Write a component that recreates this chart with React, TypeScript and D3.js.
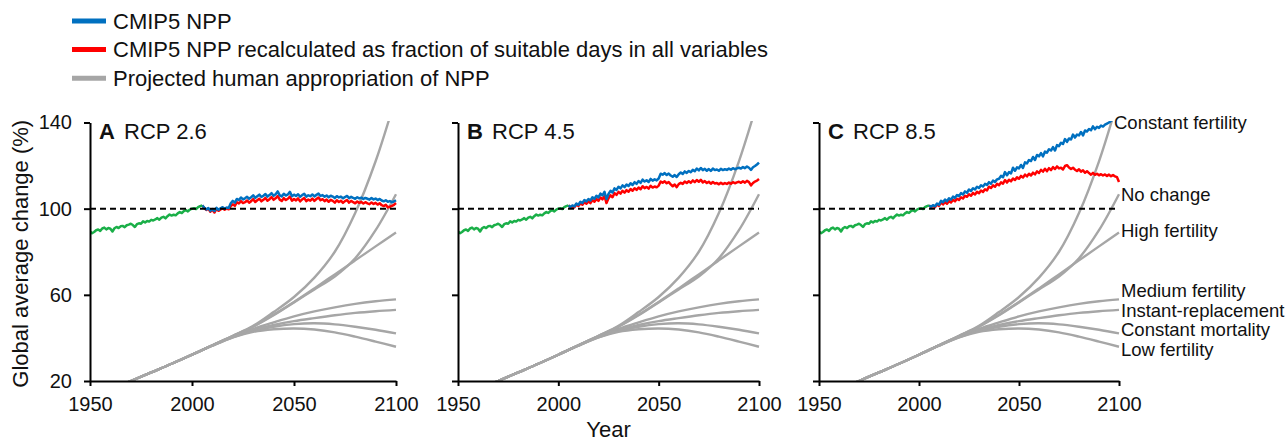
import React, { useEffect, useRef } from 'react';
import * as d3 from 'd3';

const W = 1288;
const H = 441;

// observed NPP (green), annual from 1950
const obsStart = 1950;
const observed = [
  89.5, 88.6, 89.2, 90.0, 90.3, 89.7, 90.8, 91.2, 90.4, 91.0,
  90.7, 89.4, 90.9, 91.5, 91.0, 91.8, 92.0, 91.4, 92.3, 92.6,
  93.0, 92.4, 91.5, 92.8, 93.2, 93.0, 94.1, 93.6, 94.3, 94.0,
  94.8, 94.5, 95.0, 95.6, 94.9, 95.8, 96.2, 95.5, 96.5, 97.3,
  96.8, 97.2, 96.9, 97.8, 98.4, 98.0, 98.9, 99.3, 98.7, 99.6,
  100.0, 100.2, 99.8, 100.7, 101.2, 101.5,
];

// CMIP5 projections, annual from 2006
const projStart = 2006;
const blueA = [
  100.5, 99.6, 100.3, 99.0, 99.8, 98.9, 100.4, 99.5, 100.2, 100.7,
  100.0, 100.5, 100.3, 102.5, 103.6, 102.8, 104.5, 104.0, 105.2, 104.3,
  104.8, 105.5, 104.6, 105.3, 106.2, 105.0, 105.8, 106.5, 105.4, 106.0,
  106.8, 105.6, 106.3, 107.2, 106.0, 106.7, 108.0, 106.2, 105.7, 106.9,
  106.1, 106.6, 107.8, 105.8, 106.5, 105.9, 106.7, 105.5, 106.3, 106.9,
  105.6, 106.2, 105.8, 106.6, 105.7, 106.4, 107.0, 105.9, 106.3, 105.5,
  106.1, 105.3, 106.0, 105.6, 104.9, 105.8, 105.2, 105.6, 104.8, 105.4,
  105.9, 104.9, 105.5, 105.0, 104.6, 105.3, 104.8, 105.1, 104.5, 105.0,
  104.6, 104.2, 104.9, 104.3, 104.7, 104.0, 104.5, 103.8, 103.4, 103.9,
  103.2, 103.5, 103.0, 103.3, 103.9,
];
const redA = [
  100.3, 99.4, 100.0, 98.6, 99.5, 98.2, 99.9, 99.0, 99.6, 100.2,
  99.5, 100.0, 99.7, 101.2, 102.0, 101.3, 103.0, 102.4, 103.5, 102.6,
  103.0, 103.8, 102.8, 103.5, 104.4, 103.1, 103.9, 104.6, 103.4, 104.1,
  105.0, 103.7, 104.4, 105.4, 104.1, 104.8, 105.9, 104.2, 103.6, 104.9,
  104.0, 104.6, 105.6, 103.7, 104.5, 103.8, 104.8, 103.4, 104.3, 105.0,
  103.5, 104.2, 103.7, 104.7, 103.6, 104.5, 105.2, 103.9, 104.4, 103.5,
  104.2, 103.2, 104.1, 103.6, 102.8, 103.9, 103.1, 103.7, 102.7, 103.5,
  104.0, 102.8, 103.6, 103.0, 102.5, 103.3, 102.7, 103.1, 102.4, 103.0,
  102.5, 102.1, 102.9, 102.2, 102.7, 101.9, 102.5, 101.6, 101.2, 101.8,
  100.6, 100.9, 101.3, 101.8, 102.6,
];
const blueB = [
  100.8, 101.5, 101.0, 102.4, 101.8, 103.2, 102.6, 104.0, 103.4, 104.5,
  103.8, 105.3, 104.6, 106.0, 105.2, 107.0, 106.2, 107.8, 104.5, 106.8,
  108.3, 107.5, 109.4, 108.7, 110.2, 109.4, 110.8, 110.0, 111.2, 110.5,
  111.8, 111.0, 112.3, 111.5, 112.8, 112.0, 113.5, 112.6, 113.2, 112.4,
  113.8, 113.0, 113.6, 113.1, 114.0, 116.2, 115.8, 116.5, 115.6, 116.3,
  115.4, 114.8, 115.6, 114.7, 116.0, 116.8, 116.1, 117.3, 116.6, 117.5,
  116.9, 118.0, 117.4, 118.6, 117.8, 118.9, 117.9, 118.5, 117.6, 118.4,
  117.5, 118.6, 117.9, 118.2, 117.6, 118.5, 117.9, 118.3, 118.0, 118.6,
  118.1, 118.8, 118.3, 118.7, 119.0, 118.6, 119.3, 118.8, 119.6, 119.0,
  118.0, 119.2, 119.8, 120.5, 121.4,
];
const redB = [
  100.6, 101.2, 100.6, 101.9, 101.2, 102.5, 101.8, 103.0, 102.3, 103.4,
  102.6, 104.0, 103.2, 104.5, 103.6, 105.2, 104.3, 105.8, 102.6, 104.8,
  106.2, 105.3, 107.2, 106.4, 107.8, 107.0, 108.3, 107.4, 108.6, 107.9,
  109.1, 108.3, 109.5, 108.7, 109.8, 109.0, 110.4, 109.5, 110.1, 109.3,
  110.6, 109.8, 110.3, 109.9, 110.7, 112.6, 112.0, 112.7, 111.8, 112.4,
  111.3, 110.4, 111.2, 110.0, 111.4, 112.0, 111.5, 112.6, 111.9, 112.7,
  112.0, 113.1, 112.3, 113.3, 112.5, 113.4, 112.2, 112.8, 111.9, 112.5,
  111.6, 112.4, 111.7, 111.9, 111.3, 112.0, 111.4, 111.9, 111.5, 112.1,
  111.6, 112.3, 111.8, 112.2, 112.5, 112.0, 112.7, 112.1, 112.9, 112.3,
  110.8, 111.9, 112.6, 113.0, 113.8,
];
const blueC = [
  100.9, 101.6, 101.1, 102.4, 101.9, 103.6, 103.0, 104.2, 103.5, 104.8,
  104.2, 105.6, 105.0, 106.3, 105.8, 107.2, 106.6, 108.0, 107.4, 108.9,
  108.2, 109.5, 108.9, 110.2, 109.6, 110.9, 110.3, 111.5, 111.0, 112.3,
  111.6, 113.0, 112.4, 113.6, 113.9, 115.2, 114.6, 117.0, 115.5, 117.0,
  116.4, 119.0, 117.6, 119.2, 118.7, 120.3, 118.9, 121.5, 121.0, 122.6,
  122.1, 124.0, 122.6, 124.9, 124.3, 125.8, 124.3, 126.5, 126.0, 127.6,
  127.0, 128.6, 127.0, 129.5, 129.0, 130.6, 130.0, 132.3, 131.0, 132.6,
  132.1, 134.4, 133.0, 134.4, 134.0, 135.6, 134.0, 136.3, 135.8, 137.0,
  136.4, 138.2, 136.9, 138.0, 137.5, 138.6, 138.1, 139.0, 139.5, 140.0,
  140.8, 141.5, 142.0, 142.6, 143.2,
];
const redC = [
  100.7, 101.3, 100.7, 101.9, 101.3, 102.8, 102.0, 103.1, 102.3, 103.6,
  102.9, 104.1, 103.4, 104.6, 104.0, 105.3, 104.7, 106.0, 105.5, 106.7,
  106.0, 107.3, 106.6, 107.8, 107.2, 108.4, 107.8, 109.0, 108.5, 110.2,
  109.6, 110.8, 110.2, 111.5, 110.9, 112.2, 111.6, 113.3, 112.1, 113.4,
  112.7, 114.0, 113.3, 114.6, 113.9, 115.2, 114.5, 115.8, 115.0, 116.2,
  115.4, 116.7, 115.9, 117.3, 116.6, 118.0, 117.2, 118.5, 117.4, 118.8,
  117.9, 119.3, 118.4, 119.6, 118.7, 119.0, 118.2, 119.8, 120.2, 119.1,
  118.4, 119.0, 118.1, 117.5, 118.3, 117.2, 117.8, 116.7, 117.4, 116.5,
  115.8, 116.6, 115.7, 116.2, 115.5, 116.0, 115.4, 115.9, 115.2, 115.8,
  115.1, 115.6, 115.0, 114.6, 112.4,
];

const panelLetters = ['A', 'B', 'C'];
const panelTitles = ['RCP 2.6', 'RCP 4.5', 'RCP 8.5'];
const panelBlue = [blueA, blueB, blueC];
const panelRed = [redA, redB, redC];

// human appropriation of NPP, per decade
const hanppYears = [1960, 1970, 1980, 1990, 2000, 2010, 2020, 2030, 2040, 2050, 2060, 2070, 2080, 2090, 2100];
const hanppNames = [
  'Constant fertility', 'No change', 'High fertility', 'Medium fertility',
  'Instant-replacement', 'Constant mortality', 'Low fertility',
];
const hanppValues = [
  [16, 20, 24, 28, 32.2, 36.6, 41.0, 45.6, 52, 59, 68, 80, 98, 122, 152],
  [16, 20, 24, 28, 32.2, 36.6, 40.9, 45.2, 50.5, 56.5, 62.5, 68.5, 77, 90, 106.7],
  [16, 20, 24, 28, 32.2, 36.6, 40.9, 45.3, 50.8, 56.7, 63, 69.5, 76, 82.5, 88.9],
  [16, 20, 24, 28, 32.2, 36.5, 40.6, 44.2, 47.2, 50.0, 52.3, 54.2, 55.8, 57, 57.9],
  [16, 20, 24, 28, 32.2, 36.5, 40.5, 43.8, 46.0, 47.8, 49.2, 50.5, 51.6, 52.4, 53],
  [16, 20, 24, 28, 32.2, 36.4, 40.3, 43.3, 45.2, 46.4, 46.8, 46.3, 45.2, 43.8, 42.1],
  [16, 20, 24, 28, 32.2, 36.4, 40.2, 42.8, 44.0, 44.4, 43.9, 42.6, 40.6, 38.3, 35.9],
];
const labelYears = [2096.5, 2100, 2100, 2100, 2100, 2100, 2100];
const labelValues = [140.2, 106.6, 89.9, 61.8, 52.8, 43.7, 34.8];

const legendNames = [
  'CMIP5 NPP',
  'CMIP5 NPP recalculated as fraction of suitable days in all variables',
  'Projected human appropriation of NPP',
];

const yTicks = [20, 60, 100, 140];
const xTicks = [1950, 2000, 2050, 2100];

const BLUE = '#0070c0';
const RED = '#ff0000';
const GREEN = '#1aaf48';
const GREY = '#a6a6a6';
const legendColors = [BLUE, RED, GREY];

const App: React.FC = () => {
  const svgRef = useRef<SVGSVGElement>(null);

  useEffect(() => {
    const svg = d3.select(svgRef.current);
    svg.selectAll('*').remove();

    const font = "'Liberation Sans', Arial, Helvetica, sans-serif";
    const lefts = [90, 458, 819];
    const rights = [396, 759, 1119];
    const top = 122.5;
    const bottom = 381;

    const y = d3.scaleLinear().domain([20, 140]).range([bottom, top]);

    // legend
    legendNames.forEach((name, i) => {
      const ly = 21 + i * 28.6;
      svg.append('line')
        .attr('x1', 72).attr('x2', 106)
        .attr('y1', ly).attr('y2', ly)
        .attr('stroke', legendColors[i])
        .attr('stroke-width', 5);
      svg.append('text')
        .attr('x', 113)
        .attr('y', ly + 7.8)
        .attr('font-family', font)
        .attr('font-size', 22)
        .attr('fill', '#111')
        .text(name);
    });

    const defs = svg.append('defs');

    panelLetters.forEach((letter, i) => {
      const x = d3.scaleLinear().domain([1950, 2100]).range([lefts[i], rights[i]]);
      const clipId = `plot-clip-${i}`;
      defs.append('clipPath').attr('id', clipId)
        .append('rect')
        .attr('x', lefts[i])
        .attr('y', top - 1.5)
        .attr('width', rights[i] - lefts[i] + 4)
        .attr('height', bottom - top + 1.5);

      const g = svg.append('g');
      const plot = g.append('g').attr('clip-path', `url(#${clipId})`);

      // grey human appropriation curves
      const gLine = d3.line<number>()
        .x((_, j) => x(hanppYears[j]))
        .y(d => y(d))
        .curve(d3.curveCatmullRom.alpha(0.5));
      hanppValues.forEach(vals => {
        plot.append('path')
          .attr('d', gLine(vals)!)
          .attr('fill', 'none')
          .attr('stroke', GREY)
          .attr('stroke-width', 2.4);
      });

      // 100% reference
      g.append('line')
        .attr('x1', x(1950)).attr('x2', x(2100))
        .attr('y1', y(100)).attr('y2', y(100))
        .attr('stroke', '#000')
        .attr('stroke-width', 2)
        .attr('stroke-dasharray', '6,4');

      type Pt = { yr: number; v: number };
      const line = d3.line<Pt>().x(d => x(d.yr)).y(d => y(d.v));
      const last: Pt = { yr: obsStart + observed.length - 1, v: observed[observed.length - 1] };
      const toPts = (arr: number[]) => [last, ...arr.map((v, j) => ({ yr: projStart + j, v }))];

      plot.append('path')
        .attr('d', line(toPts(panelRed[i]))!)
        .attr('fill', 'none').attr('stroke', RED).attr('stroke-width', 2.5)
        .attr('stroke-linejoin', 'round');
      plot.append('path')
        .attr('d', line(toPts(panelBlue[i]))!)
        .attr('fill', 'none').attr('stroke', BLUE).attr('stroke-width', 2.5)
        .attr('stroke-linejoin', 'round');
      plot.append('path')
        .attr('d', line(observed.map((v, j) => ({ yr: obsStart + j, v })))!)
        .attr('fill', 'none').attr('stroke', GREEN).attr('stroke-width', 2.5)
        .attr('stroke-linejoin', 'round');

      // axes
      const yAxis = d3.axisLeft(y)
        .tickValues(yTicks)
        .tickSize(6)
        .tickSizeOuter(0)
        .tickPadding(12)
        .tickFormat(d => (i === 0 ? String(d) : ''));
      const ya = g.append('g')
        .attr('transform', `translate(${lefts[i]},0)`)
        .call(yAxis);

      const xAxis = d3.axisBottom(x)
        .tickValues(xTicks)
        .tickSize(5)
        .tickSizeOuter(0)
        .tickPadding(11)
        .tickFormat(d => String(d));
      const xa = g.append('g')
        .attr('transform', `translate(0,${bottom})`)
        .call(xAxis);

      [ya, xa].forEach(a => {
        a.attr('font-family', font).attr('font-size', 20);
        a.select('.domain').attr('stroke', '#000').attr('stroke-width', 2);
        a.selectAll('.tick line').attr('stroke', '#000').attr('stroke-width', 2);
        a.selectAll('.tick text').attr('fill', '#111');
      });

      // panel title
      const t = g.append('text')
        .attr('x', lefts[i] + 9)
        .attr('y', 139)
        .attr('font-family', font)
        .attr('font-size', 22)
        .attr('fill', '#111');
      t.append('tspan').attr('font-weight', 'bold').text(letter);
      t.append('tspan').attr('dx', 3).text(' ' + panelTitles[i]);

      // scenario labels on last panel
      if (i === 2) {
        hanppNames.forEach((name, k) => {
          g.append('text')
            .attr('x', x(labelYears[k]) + 2)
            .attr('y', y(labelValues[k]) + 6.5)
            .attr('font-family', font)
            .attr('font-size', 18.5)
            .attr('fill', '#111')
            .text(name);
        });
      }
    });

    // axis titles
    svg.append('text')
      .attr('x', (lefts[1] + rights[1]) / 2)
      .attr('y', 437)
      .attr('text-anchor', 'middle')
      .attr('font-family', font)
      .attr('font-size', 22)
      .attr('fill', '#111')
      .text('Year');

    svg.append('text')
      .attr('transform', `translate(28,${(top + bottom) / 2 + 2}) rotate(-90)`)
      .attr('text-anchor', 'middle')
      .attr('font-family', font)
      .attr('font-size', 22)
      .attr('fill', '#111')
      .text('Global average change (%)');
  }, []);

  return (
    <svg
      ref={svgRef}
      width={W}
      height={H}
      style={{ position: 'absolute', left: 0, top: 0, background: '#fff' }}
    />
  );
};

export default App;
